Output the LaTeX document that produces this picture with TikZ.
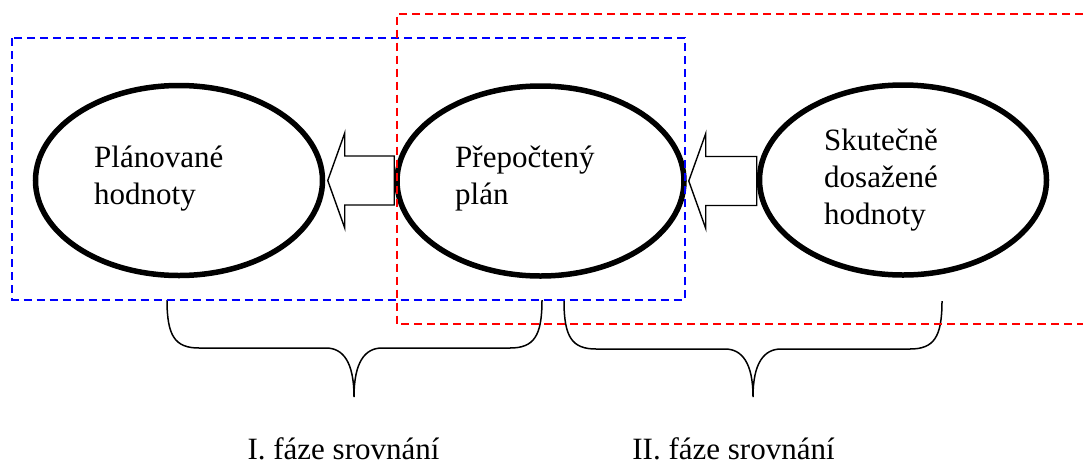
\documentclass[tikz,border=0pt]{standalone}
\usepackage{fontspec}
\setmainfont{Liberation Serif}
\usetikzlibrary{calc,shapes.geometric}
\tikzset{
  oval/.style={draw=black, line width=5.5pt, ellipse, minimum width=287pt, minimum height=190pt, inner sep=0pt},
  lbl/.style={anchor=north west, inner sep=0pt, align=left, font=\fontsize{31}{37}\selectfont},
  phase/.style={anchor=base, inner sep=0pt, text depth=0pt, font=\fontsize{31}{37}\selectfont},
  blockarrow/.style={draw=black, line width=1.4pt, fill=white, line join=miter},
  bracestyle/.style={draw=black, line width=1.5pt},
  bluebox/.style={draw=blue, line width=2pt, dash pattern=on 8pt off 5pt},
  redbox/.style={draw=red, line width=2pt, dash pattern=on 8pt off 5pt},
}
\begin{document}
\begin{tikzpicture}[x=1pt, y=-1pt]
\useasboundingbox (0,0) rectangle (1083,461);
% ellipses
\node[oval] (e1) at (179,180.5) {};
\node[oval] (e2) at (540.5,181) {};
\node[oval] (e3) at (903,180) {};
% texts
\node[lbl] (t1) at (94,145.5) {Plánované\\hodnoty};
\node[lbl] (t2) at (455,145.8) {Přepočtený\\plán};
\node[lbl] (t3) at (824,128.8) {Skutečně\\dosažené\\hodnoty};
% block arrows
\draw[blockarrow] (e2.west) |- ($(e1.east)+(19.5,-24.5)$) -- ++(0,-23) -- ($(e1.east)+(2.5,0)$)
   -- ++(17,47.5) -- ++(0,-23) -| (e2.west);
\draw[blockarrow] (e3.west) |- ($(e2.east)+(19,-24.5)$) -- ++(0,-23) -- ($(e2.east)+(2,0)$)
   -- ++(17,47.5) -- ++(0,-23) -| (e3.west);
% braces
\coordinate (b1l) at (167,300);
\coordinate (b1r) at (542,300);
\coordinate (b1t) at (354,397);
\draw[bracestyle] (b1l) .. controls (167,336) and (175,348) .. (199,348) -- (326,348)
   .. controls (343,348) and (354,362) .. (b1t)
   .. controls (354,362) and (365,348) .. (382,348) -- (510,348)
   .. controls (534,348) and (542,336) .. (b1r);
\coordinate (b2l) at (564,301);
\coordinate (b2r) at (942,301);
\coordinate (b2t) at (753,397);
\draw[bracestyle] (b2l) .. controls (564,337) and (572,349) .. (596,349) -- (725,349)
   .. controls (742,349) and (753,363) .. (b2t)
   .. controls (753,363) and (764,349) .. (781,349) -- (910,349)
   .. controls (934,349) and (942,337) .. (b2r);
% phase labels
\node[phase] (p1) at (343.5,459.5) {I. fáze srovnání};
\node[phase] (p2) at (733.5,459.5) {II. fáze srovnání};
% dashed frames
\draw[bluebox] (12,38) rectangle (685,299.5);
\draw[redbox] (1083,14) -- (396.5,14) -- (396.5,324) -- (1083,324);
\end{tikzpicture}
\end{document}
